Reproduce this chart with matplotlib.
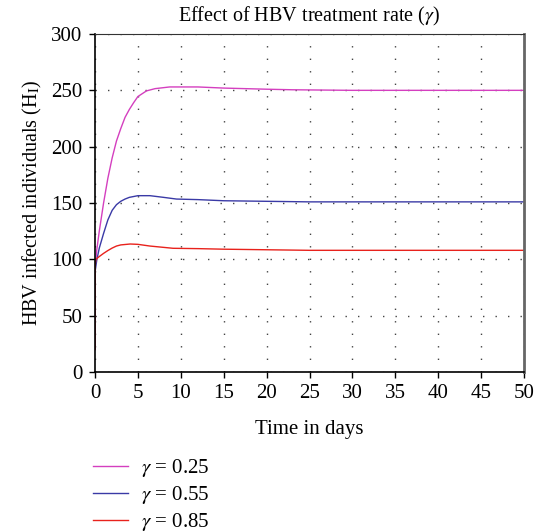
import numpy as np
import matplotlib.pyplot as plt

plt.rcParams['font.family'] = ['Liberation Serif', 'DejaVu Serif']
plt.rcParams['mathtext.fontset'] = 'stix'

## Time points (days) and infected individuals for each treatment rate
t_025 = [0, 0.03, 0.2, 0.5, 1, 1.5, 2, 2.5, 3, 3.5, 4, 4.5, 5, 6, 7, 8.7, 12, 15, 20, 23, 30, 40, 50]
h_025 = [20, 95, 108, 125, 150, 172, 190, 205, 216, 226, 233, 239, 244.5, 249.5, 251.5, 253, 253, 252, 251, 250.5, 250, 250, 250]

t_055 = [0, 0.03, 0.2, 0.5, 1, 1.5, 2, 2.5, 3, 3.5, 4, 5, 6.4, 8, 9.5, 12, 15, 20, 25, 30, 40, 50]
h_055 = [20, 90, 99, 110, 123, 135, 143.5, 148.5, 151.5, 153.5, 155, 156.5, 156.5, 155, 153.5, 153, 152, 151.5, 151, 151, 151, 151]

t_085 = [0, 0.02, 0.1, 0.5, 1, 1.5, 2, 2.5, 3, 4.1, 5, 6.4, 9.1, 12, 15, 20, 25, 30, 40, 50]
h_085 = [20, 95, 100, 102.5, 105.3, 107.8, 110, 111.8, 112.8, 113.6, 113.3, 111.8, 109.8, 109.5, 109, 108.5, 108, 108, 108, 108]

series = [
	(t_025, h_025, "#d43fbf", r"$\gamma$ = 0.25"),
	(t_055, h_055, "#3a3aa6", r"$\gamma$ = 0.55"),
	(t_085, h_085, "#e8221c", r"$\gamma$ = 0.85"),
]

fig = plt.figure(figsize=(5.44, 5.32), dpi=100)
ax = fig.add_axes([95/544, 1-372/532, (524-95)/544, (372-34)/532])

lines = []
for t, h, c, lab in series:
	ln, = ax.plot(t, h, color=c, lw=1.0, label=lab)
	lines.append(ln)

## Axes limits and ticks
ax.set_xlim(0, 50)
ax.set_ylim(0, 300)
ax.set_xticks(np.arange(0, 51, 5))
ax.set_yticks(np.arange(0, 301, 50))
ax.tick_params(direction="out", length=4, width=1, labelsize=15, colors="black", pad=5)

## Dotted grid
ax.grid(True, color="#444444", linestyle=(0, (1, 8)), linewidth=1.0)

## Frame: left/bottom black, top/right grey
for s in ["left", "bottom"]:
	ax.spines[s].set_color("black")
	ax.spines[s].set_linewidth(1.2)
ax.spines["top"].set_color("#333333")
ax.spines["right"].set_color("#666666")
ax.spines["right"].set_linewidth(2.0)

ax.set_title(r"Effect of HBV treatment rate ($\gamma$)", fontsize=14.5, pad=9)
ax.set_xlabel("Time in days", fontsize=15, labelpad=12)
ax.set_ylabel(r"HBV infected individuals (H$_\mathrm{I}$)", fontsize=14.5, labelpad=5)

fig.legend(handles=lines, loc="upper left", bbox_to_anchor=(93/544, 1-457/532),
	frameon=False, fontsize=15, handlelength=1.7, handletextpad=0.6,
	labelspacing=0.25, borderaxespad=0, borderpad=0)

fig.savefig("out.png", dpi=100)
